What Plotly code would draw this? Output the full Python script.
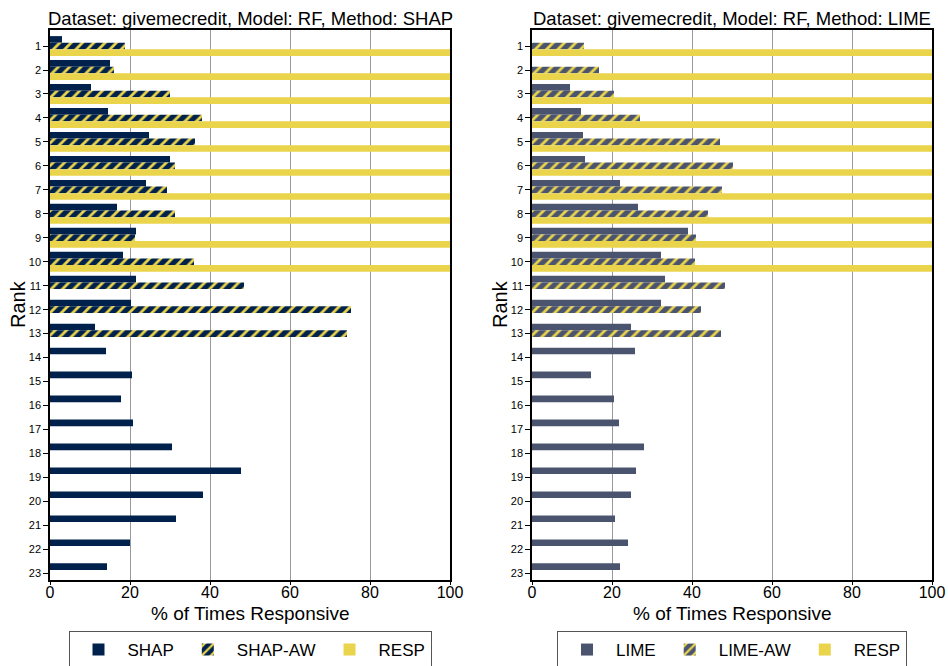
import plotly.graph_objects as go

# Rank positions 1..23
ranks = list(range(1, 24))
rank_labels = [str(r) for r in ranks]
N = None

# SHAP panel (% of times responsive)
shap = [3.0, 15.0, 10.25, 14.5, 24.75, 30.0, 24.0, 16.75, 21.5, 18.25, 21.5, 20.25,
        11.25, 14.0, 20.5, 17.75, 20.75, 30.5, 47.75, 38.25, 31.5, 20.0, 14.25]
shap_aw = [18.75, 16.0, 30.0, 38.0, 36.25, 31.25, 29.25, 31.25, 21.25, 36.0, 48.5, 75.25,
           74.25, N, N, N, N, N, N, N, N, N, N]
resp_shap = [100, 100, 100, 100, 100, 100, 100, 100, 100, 100, N, N,
             N, N, N, N, N, N, N, N, N, N, N]

# LIME panel (% of times responsive)
lime = [N, N, 9.5, 12.25, 12.75, 13.25, 22.0, 26.5, 39.0, 32.25, 33.25, 32.25,
        24.75, 25.75, 14.75, 20.5, 21.75, 28.0, 26.0, 24.75, 20.75, 24.0, 22.0]
lime_aw = [13.0, 16.75, 20.5, 27.0, 47.0, 50.25, 47.5, 44.0, 41.0, 40.75, 48.25, 42.25,
           47.25, N, N, N, N, N, N, N, N, N, N]
resp_lime = [100, 100, 100, 100, 100, 100, 100, 100, 100, 100, N, N,
             N, N, N, N, N, N, N, N, N, N, N]

x_ticks = [0, 20, 40, 60, 80, 100]

NAVY = "#00214C"
SLATE = "#4B546E"
MAIZE = "#EAD44B"
FONT = "Liberation Sans"

W, H = 948, 666


def px_x(p):
    return p / W


def px_y(p):
    return 1 - p / H


fig = go.Figure()


def add_panel(xa, ya, legend, name, vals, aw_vals, resp_vals, color):
    fig.add_trace(go.Bar(
        y=ranks, x=vals, orientation="h", name=name, xaxis=xa, yaxis=ya,
        marker=dict(color=color, line=dict(width=0)), legend=legend,
    ))
    fig.add_trace(go.Bar(
        y=ranks, x=aw_vals, orientation="h", name=name + "-AW", xaxis=xa, yaxis=ya,
        marker=dict(color=color, line=dict(width=0),
                    pattern=dict(shape="/", bgcolor=color, fgcolor=MAIZE,
                                 fillmode="replace", size=8, solidity=0.35)),
        legend=legend,
    ))
    fig.add_trace(go.Bar(
        y=ranks, x=resp_vals, orientation="h", name="RESP", xaxis=xa, yaxis=ya,
        marker=dict(color=MAIZE, line=dict(width=0)), legend=legend,
    ))


add_panel("x", "y", "legend", "SHAP", shap, shap_aw, resp_shap, NAVY)
add_panel("x2", "y2", "legend2", "LIME", lime, lime_aw, resp_lime, SLATE)

y_dom = [px_y(580), px_y(30)]
left_dom = [px_x(50), px_x(450)]
right_dom = [px_x(532), px_x(932)]

xaxis_common = dict(
    range=[0, 100], tickvals=x_ticks, ticktext=[str(v) for v in x_ticks],
    showgrid=True, gridcolor="#999999", gridwidth=1,
    showline=True, linecolor="black", linewidth=1.5, mirror=True,
    ticks="outside", ticklen=3, tickcolor="black", ticklabelstandoff=-6,
    tickfont=dict(family=FONT, size=16, color="black"),
    zeroline=False, fixedrange=True,
)
yaxis_common = dict(
    range=[23.28, 0.33], tickvals=ranks, ticktext=rank_labels,
    showgrid=False, showline=True, linecolor="black", linewidth=1.5, mirror=True,
    ticks="outside", ticklen=5, tickcolor="black",
    tickfont=dict(family=FONT, size=11, color="black"),
    zeroline=False, fixedrange=True,
)

legend_common = dict(
    orientation="h", y=px_y(631), yanchor="top",
    bordercolor="#555555", borderwidth=1, bgcolor="white",
    font=dict(family=FONT, size=17, color="black"),
    itemwidth=48, traceorder="normal",
)

fig.update_layout(
    width=W, height=H,
    margin=dict(l=0, r=0, t=0, b=0, autoexpand=False),
    paper_bgcolor="white", plot_bgcolor="white",
    barmode="group", bargap=0.17, bargroupgap=0.0,
    font=dict(family=FONT, color="black"),
    xaxis=dict(domain=left_dom, anchor="y", **xaxis_common),
    yaxis=dict(domain=y_dom, anchor="x", **yaxis_common),
    xaxis2=dict(domain=right_dom, anchor="y2", **xaxis_common),
    yaxis2=dict(domain=y_dom, anchor="x2", **yaxis_common),
    legend=dict(x=px_x(250), xanchor="center", **legend_common),
    legend2=dict(x=px_x(732), xanchor="center", **legend_common),
)

titles = [
    dict(text="Dataset: givemecredit, Model: RF, Method: SHAP", x=px_x(250), y=px_y(19)),
    dict(text="Dataset: givemecredit, Model: RF, Method: LIME", x=px_x(732), y=px_y(19)),
]
for a in titles:
    fig.add_annotation(xref="paper", yref="paper", xanchor="center", yanchor="middle",
                       showarrow=False, font=dict(family=FONT, size=18.5, color="black"), **a)
for xc in (250, 732):
    fig.add_annotation(text="% of Times Responsive", xref="paper", yref="paper",
                       x=px_x(xc), y=px_y(613), xanchor="center", yanchor="middle",
                       showarrow=False, font=dict(family=FONT, size=19, color="black"))
for xc in (18, 500):
    fig.add_annotation(text="Rank", xref="paper", yref="paper", x=px_x(xc), y=px_y(304),
                       xanchor="center", yanchor="middle", showarrow=False, textangle=-90,
                       font=dict(family=FONT, size=20, color="black"))

fig.write_html("out.html")
